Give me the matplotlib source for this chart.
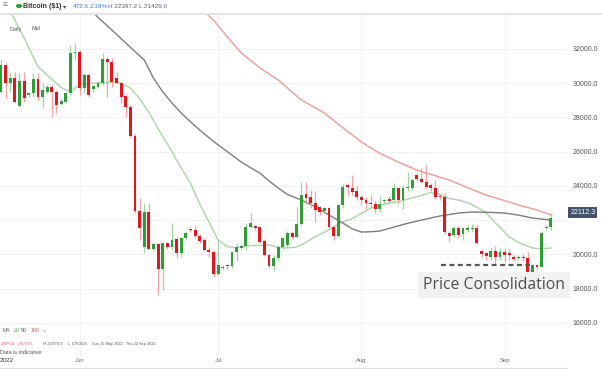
import matplotlib
matplotlib.use('Agg')
import matplotlib.pyplot as plt
import numpy as np
import pandas as pd

plt.rcParams['font.family'] = ['Liberation Sans', 'DejaVu Sans']

# daily candles, Bitcoin ($1), from 15 May 2022
start = pd.Timestamp('2022-05-15')
opens = [29510, 31065, 29995, 30287, 28671, 30150, 29313, 29411, 30228, 29216,
         29508, 29761, 29508, 28788, 28924, 29411, 31746, 31844, 29703, 30481,
         29644, 29800, 29995, 31396, 31260, 30287, 30033, 29274, 28632, 26919,
         22540, 20457, 22462, 20321, 20594, 19153, 20652, 20457, 20886, 20068,
         20944, 21489, 21431, 21100, 20847, 20263, 20165, 18861, 19193, 19380,
         19329, 20127, 20380, 20496, 21625, 21660, 21620, 20808, 19971, 19330,
         19776, 20457, 20555, 21275, 21003, 21760, 23533, 23380, 22990, 22800,
         22530, 22720, 21625, 21080, 22890, 24000, 23864, 23727, 23377, 23200,
         23000, 22950, 22640, 23100, 23240, 23180, 23864, 23180, 23864, 23900,
         24640, 24390, 24250, 24058, 23864, 23416, 23380, 21275, 21139, 21567,
         21197, 21450, 21470, 21567, 20224, 20068, 19873, 20224, 19835, 20160,
         20068, 19873, 19776, 19873, 19800, 18900, 19387, 19290, 21560, 21625]
highs = [31400, 31260, 30676, 30676, 30579, 30676, 29508, 30579, 30617, 29995,
         29900, 29897, 29605, 29118, 29508, 32233, 32369, 31941, 30617, 30617,
         29900, 30150, 31750, 31550, 31455, 30676, 30100, 29400, 28730, 27050,
         23280, 22988, 22988, 20650, 20650, 20700, 20750, 21820, 21041, 21041,
         21300, 21560, 21722, 21200, 20950, 20420, 20263, 20847, 19400, 19450,
         20200, 20650, 20600, 21820, 22440, 21700, 21680, 20900, 20068, 19971,
         20550, 21000, 21350, 21400, 22793, 24250, 24250, 23786, 23700, 22850,
         22800, 22750, 21750, 22950, 24100, 24200, 24642, 24000, 23450, 23350,
         23450, 23150, 23400, 23250, 23400, 24150, 23950, 24050, 24837, 24400,
         24750, 25050, 25226, 24200, 24350, 23550, 23600, 21350, 21650, 21650,
         21600, 21700, 21780, 21800, 20300, 20150, 20400, 20500, 20400, 20350,
         20300, 19950, 19950, 20050, 20150, 19450, 19450, 21400, 21750, 22397]
lows = [29410, 29120, 29508, 28827, 28632, 28924, 29216, 29216, 29021, 28632,
        29400, 28048, 28243, 28730, 28827, 29313, 31357, 29313, 29411, 29216,
        29500, 29700, 29900, 29216, 29800, 29995, 28827, 28048, 26880, 22400,
        20847, 20068, 20263, 20250, 17635, 17927, 20350, 20263, 19776, 19873,
        20850, 21300, 20944, 20700, 20200, 19873, 18667, 18803, 19100, 19100,
        19200, 19600, 20300, 20263, 21528, 21450, 20652, 19900, 19200, 19060,
        19700, 20350, 20450, 20900, 20950, 21700, 22950, 22700, 21917, 22300,
        22350, 21550, 20847, 21000, 22700, 23500, 23450, 23200, 22900, 22650,
        22700, 22450, 22500, 22950, 23000, 23100, 22950, 22650, 23700, 23750,
        24300, 24150, 23800, 23700, 23250, 23200, 21200, 20750, 21050, 20950,
        20850, 21300, 21300, 20600, 19850, 19650, 19700, 19450, 19650, 19550,
        19700, 19650, 19700, 19600, 18750, 18700, 19100, 19250, 21450, 21429]
closes = [31065, 29995, 30325, 28924, 30150, 29118, 29411, 30228, 29216, 29605,
          29761, 29469, 28730, 28982, 29411, 31785, 31844, 29703, 30481, 29313,
          29839, 30033, 31396, 31221, 30092, 30033, 29216, 28632, 26919, 22540,
          21528, 22462, 20321, 20594, 19153, 20652, 20457, 20847, 20068, 20944,
          21250, 21410, 21100, 20808, 20263, 20165, 18861, 19387, 19290, 19300,
          20127, 20418, 20496, 21625, 21820, 21530, 20750, 19971, 19330, 19776,
          20457, 20944, 21275, 21003, 21760, 23474, 23280, 23030, 22600, 22500,
          22720, 21625, 21080, 22890, 23960, 23960, 23669, 23377, 23200, 23000,
          22950, 22640, 22950, 23180, 23143, 23864, 23180, 23864, 23922, 24350,
          24390, 24250, 23960, 23864, 23377, 23338, 21300, 21080, 21567, 21139,
          21528, 21500, 21567, 20652, 20029, 19932, 20224, 19873, 20160, 19971,
          19971, 19718, 19873, 19776, 18900, 19387, 19251, 21275, 21625, 22112]

# moving averages (day offset, price)
ma20_day = [0, 2, 5, 8, 11, 13, 15, 17, 19, 21, 24, 26, 28, 30, 32, 34, 37, 39,
            41, 43, 45, 47, 49, 51, 53, 56, 58, 60, 62, 64, 66, 68, 70, 72, 74,
            76, 78, 80, 82, 84, 86, 89, 91, 93, 95, 97, 99, 101, 103, 105, 107,
            110, 112, 115, 117, 119]
ma20_val = [35200, 34200, 32650, 30950, 30250, 29750, 29490, 29900, 30000, 30010,
            30050, 30010, 29720, 29100, 28300, 27350, 26000, 25050, 24175, 22950,
            21900, 20850, 20450, 20400, 20500, 20540, 20555, 20420, 20380, 20440,
            20700, 21050, 21300, 21600, 21900, 22100, 22400, 22700, 22890, 23000,
            23080, 23300, 23450, 23620, 23500, 23270, 23180, 23030, 22780, 22420,
            21850, 21030, 20700, 20380, 20330, 20380]
ma50_day = [18, 20, 22, 24, 27, 29, 31, 33, 35, 37, 39, 41, 43, 46, 49, 52, 54,
            56, 58, 60, 62, 65, 68, 71, 74, 76, 78, 80, 82, 85, 88, 91, 95, 99,
            102, 105, 109, 112, 115, 119]
ma50_val = [34700, 34100, 33600, 33110, 32350, 31850, 31360, 30300, 29500, 28850,
            28260, 27750, 27270, 26600, 26000, 25400, 25070, 24760, 24300, 23880,
            23500, 23180, 22790, 22300, 21840, 21500, 21310, 21330, 21370, 21600,
            21820, 22010, 22250, 22420, 22480, 22470, 22420, 22300, 22130, 22010]
ma100_day = [43, 46, 49, 52, 56, 60, 65, 70, 74, 78, 82, 86, 90, 94, 97, 101,
             105, 109, 112, 116, 119]
ma100_val = [34400, 33690, 32700, 31770, 30900, 30190, 29020, 28260, 27400, 26570,
             25900, 25400, 24930, 24600, 24350, 23900, 23470, 23150, 22890, 22600,
             22310]

price_ticks = [16000, 18000, 20000, 24000, 26000, 28000, 30000, 32000]
grid_levels = [16000, 18000, 20000, 22000, 24000, 26000, 28000, 30000, 32000]
months = ['Jun', 'Jul', 'Aug', 'Sep']
last_price = 22112.3
support = 19387

W, H = 602, 369
fig = plt.figure(figsize=(W / 100, H / 100), dpi=100)
ax = fig.add_axes([0, (H - 356) / H, 567 / W, (356 - 13) / H])

o = np.array(opens)
h = np.array(highs)
l = np.array(lows)
c = np.array(closes)
days = np.arange(len(o))
up = c >= o

for v in grid_levels:
    ax.axhline(v, color='#f1f1f1', lw=0.8, zorder=0)
month_pos = [(pd.Timestamp(f'2022-{m}-01') - start).days for m in (6, 7, 8, 9)]
for v in month_pos:
    ax.axvline(v, color='#f1f1f1', lw=0.8, zorder=0)

ax.plot(ma20_day, ma20_val, color='#a5d9a0', lw=1.0, zorder=2)
ax.plot(ma50_day, ma50_val, color='#7d7d7d', lw=1.0, zorder=2)
ax.plot(ma100_day, ma100_val, color='#f19a94', lw=1.0, zorder=2)

ax.vlines(days, l, h, colors=np.where(up, '#9fd69f', '#f5a0a3'), lw=0.9, zorder=3)
ax.bar(days, np.maximum(np.abs(c - o), 70), bottom=np.minimum(o, c), width=0.62,
       color=np.where(up, '#2e9e35', '#e3161e'), linewidth=0, zorder=4)

ax.hlines(support, 95.2, 114.5, colors='#555555', lw=1.6, linestyles=(0, (2.2, 1.6)), zorder=5)
ax.text(91.3, 18230, 'Price Consolidation', fontsize=11.3, family='Open Sans',
        color='#4f4f4f', va='center', ha='left', zorder=6,
        bbox=dict(facecolor='#f2f2f2', edgecolor='none', pad=3.5))

ax.set_xlim(-0.22, 122.5)
ax.set_ylim(14073, 34102)
for s in ax.spines.values():
    s.set_visible(False)

ax.yaxis.tick_right()
ax.set_yticks(price_ticks)
ax.set_yticklabels([f'{v:.1f}' for v in price_ticks])
ax.tick_params(axis='y', length=0, pad=3.8, labelsize=5, labelcolor='#555555')
ax.set_xticks(month_pos)
ax.set_xticklabels(months)
ax.tick_params(axis='x', length=0, pad=1.2, labelsize=4.2, labelcolor='#666666')

ax.annotate(f'{last_price:.1f}', xy=(1.0, last_price), xycoords=('axes fraction', 'data'),
            xytext=(2.3, 4.5), textcoords='offset points', fontsize=5, color='white',
            va='center', ha='left', annotation_clip=False,
            bbox=dict(facecolor='#44546f', edgecolor='none', pad=1.4))

def ftext(x, y, s, **kw):
    kw.setdefault('fontsize', 4.6)
    kw.setdefault('color', '#555555')
    fig.text(x / W, 1 - y / H, s, va='center', ha='left', **kw)

# header
fig.add_artist(plt.Line2D([0, 1], [1 - 13.5 / H] * 2, color='#e4e4e4', lw=1.5))
ftext(3, 6, '≡', fontsize=6, color='#777777')
fig.add_artist(plt.Circle((19 / W, 1 - 6 / H), 2.3 / W, color='#2e9e35'))
ftext(23, 6, 'Bitcoin ($1)', fontsize=5, color='#333333', weight='bold')
ftext(63, 6.5, '▾', fontsize=4.5, color='#444444')
ftext(73, 6, '472.6', color='#3f7ed2')
ftext(89.5, 6, '2.18%', color='#3f7ed2')
ftext(107.5, 6, 'H 22397.2', color='#56657e')
ftext(139, 6, 'L 21429.0', color='#56657e')
ftext(10, 29, 'Daily', fontsize=3.9)
ftext(32, 29, 'Mid', fontsize=3.9)

# bottom-left legend
ftext(3, 331, 'MA', fontsize=3.8, color='#666666')
ftext(14, 331, '20', fontsize=3.8, color='#4caf50')
ftext(21, 331, '50', fontsize=3.8, color='#555555')
ftext(31, 331, '100', fontsize=3.8, color='#e05050')
ftext(43, 331, '×', fontsize=3.8, color='#888888')
ftext(1, 344, '-8076.0', fontsize=3.1, color='#d9534f')
ftext(18, 344, '-26.75%', fontsize=3.1, color='#d9534f')
ftext(43, 344, 'H 22370.9', fontsize=3.1)
ftext(68, 344, 'L 17604.8', fontsize=3.1)
ftext(92, 344, 'Sun 15 May 2022 - Thu 22 Sep 2022', fontsize=2.8)
ftext(0, 352, 'Data is indicative', fontsize=4.0)
ftext(0, 360, '2022', fontsize=4.5, color='#333333')

fig.add_artist(plt.Line2D([0, 567 / W], [1 - 367.5 / H] * 2, color='#dddddd', lw=0.8))

fig.savefig('out.png', dpi=100)
